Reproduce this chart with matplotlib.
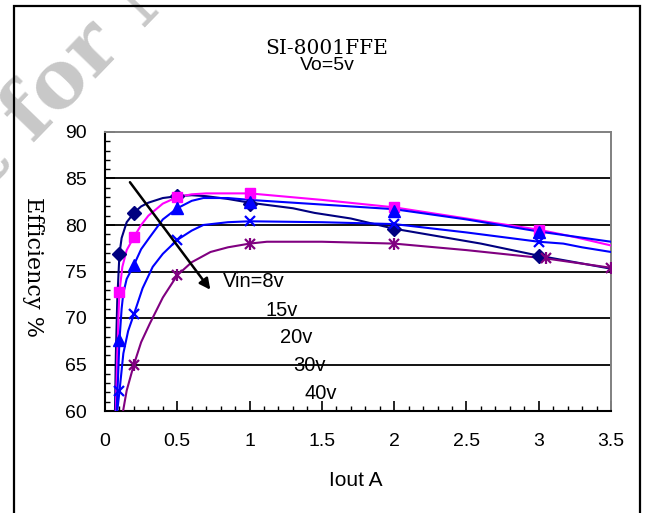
import matplotlib
matplotlib.use("Agg")
import matplotlib.pyplot as plt
from matplotlib.patches import Rectangle

# ---------------- data ----------------
title = "SI-8001FFE"
subtitle = "Vo=5v"
x_label = "Iout A"
y_label = "Efficiency %"
x_ticks = [0, 0.5, 1, 1.5, 2, 2.5, 3, 3.5]
x_tick_labels = ["0", "0.5", "1", "1.5", "2", "2.5", "3", "3.5"]
y_ticks = [60, 65, 70, 75, 80, 85, 90]
series_labels = ["Vin=8v", "15v", "20v", "30v", "40v"]

# Vin = 8 V (navy, diamonds)
v8_line_x = [0.069, 0.075, 0.085, 0.1, 0.115, 0.15, 0.2, 0.25, 0.3, 0.4, 0.5, 0.6, 0.7, 0.85, 1.0, 1.15, 1.3, 1.45, 1.7, 2.0, 2.3, 2.6, 3.0, 3.25, 3.5]
v8_line_y = [60.0, 66.0, 72.0, 76.9, 78.6, 80.3, 81.3, 82.0, 82.4, 82.9, 83.1, 83.2, 83.1, 82.8, 82.4, 82.1, 81.8, 81.3, 80.7, 79.6, 78.8, 78.0, 76.7, 76.0, 75.3]
v8_mark_x = [0.1, 0.2, 0.5, 1.0, 2.0, 3.0]
v8_mark_y = [76.9, 81.3, 83.1, 82.3, 79.6, 76.7]

# Vin = 15 V (magenta, squares)
v15_line_x = [0.075, 0.085, 0.095, 0.1, 0.12, 0.15, 0.2, 0.25, 0.3, 0.4, 0.5, 0.6, 0.7, 0.85, 1.0, 1.5, 2.0, 2.5, 2.7, 3.0, 3.25, 3.5]
v15_line_y = [60.0, 66.0, 71.0, 72.8, 75.5, 77.3, 78.7, 80.0, 81.0, 82.3, 83.0, 83.3, 83.4, 83.4, 83.4, 82.7, 81.9, 80.7, 80.2, 79.5, 78.7, 77.8]
v15_mark_x = [0.1, 0.2, 0.5, 1.0, 2.0, 3.0]
v15_mark_y = [72.8, 78.7, 83.0, 83.4, 81.9, 79.5]

# Vin = 20 V (blue, triangles)
v20_line_x = [0.08, 0.09, 0.1, 0.115, 0.127, 0.15, 0.2, 0.25, 0.31, 0.4, 0.5, 0.6, 0.68, 0.85, 1.0, 1.5, 2.0, 2.5, 3.0, 3.5]
v20_line_y = [60.0, 63.5, 67.6, 71.0, 72.7, 74.2, 75.7, 77.4, 78.7, 80.6, 81.8, 82.6, 82.9, 82.9, 82.7, 82.2, 81.7, 80.6, 79.3, 78.2]
v20_mark_x = [0.1, 0.2, 0.5, 1.0, 2.0, 3.0]
v20_mark_y = [67.6, 75.7, 81.8, 82.5, 81.5, 79.3]

# Vin = 30 V (blue, crosses)
v30_line_x = [0.085, 0.1, 0.127, 0.16, 0.2, 0.26, 0.33, 0.4, 0.5, 0.6, 0.68, 0.85, 1.0, 1.5, 2.0, 2.5, 3.0, 3.17, 3.3, 3.5]
v30_line_y = [60.0, 62.1, 66.2, 68.6, 70.4, 73.2, 75.5, 76.9, 78.4, 79.4, 80.0, 80.3, 80.4, 80.3, 80.1, 79.2, 78.2, 78.0, 77.6, 77.1]
v30_mark_x = [0.1, 0.2, 0.5, 1.0, 2.0, 3.0]
v30_mark_y = [62.1, 70.4, 78.4, 80.4, 80.1, 78.2]

# Vin = 40 V (purple, stars)
v40_line_x = [0.125, 0.15, 0.2, 0.25, 0.31, 0.4, 0.5, 0.6, 0.73, 0.85, 1.0, 1.12, 1.5, 2.0, 2.5, 3.05, 3.5]
v40_line_y = [60.0, 62.2, 65.0, 67.4, 69.4, 72.2, 74.6, 76.0, 77.1, 77.6, 78.0, 78.2, 78.2, 78.0, 77.3, 76.4, 75.4]
v40_mark_x = [0.2, 0.5, 1.0, 2.0, 3.05, 3.5]
v40_mark_y = [65.0, 74.6, 78.0, 78.0, 76.4, 75.4]

# ---------------- figure ----------------
fig = plt.figure(figsize=(6.5, 5.13), dpi=100)
fig.patch.set_facecolor("white")

# watermark (partly outside the picture, as in the reference)
fig.text(-0.155, 0.45, "Not for New Design", rotation=46, rotation_mode="anchor",
         ha="left", va="baseline", fontsize=58, family="DejaVu Serif",
         fontweight="bold", color="#c8c8c8", zorder=0)

# outer frame
fig.patches.append(Rectangle((14 / 650, -0.05), (640 - 14) / 650, 1 - 6 / 513 + 0.05,
                             transform=fig.transFigure, fill=False,
                             edgecolor="black", lw=1.6, zorder=1))

ax = fig.add_axes([105 / 650, 1 - 411 / 513, (611 - 105) / 650, (411 - 132) / 513])
ax.set_facecolor("none")
ax.set_xlim(0, 3.5)
ax.set_ylim(60, 90)

for g in y_ticks[1:-1]:
    ax.axhline(g, color="black", lw=1.3, zorder=1)

LW = 1.5
ax.plot(v8_line_x, v8_line_y, color="#000080", lw=LW, zorder=3)
ax.plot(v8_mark_x, v8_mark_y, ls="none", marker="D", ms=7, color="#000080", zorder=4)

ax.plot(v15_line_x, v15_line_y, color="#ff00ff", lw=LW, zorder=3)
ax.plot(v15_mark_x, v15_mark_y, ls="none", marker="s", ms=7.5, color="#ff00ff", zorder=4)

ax.plot(v20_line_x, v20_line_y, color="#0000ff", lw=LW, zorder=3)
ax.plot(v20_mark_x, v20_mark_y, ls="none", marker="^", ms=9, color="#0000ff", zorder=4)

ax.plot(v30_line_x, v30_line_y, color="#0000ff", lw=LW, zorder=3)
ax.plot(v30_mark_x, v30_mark_y, ls="none", marker="x", ms=7, mew=1.6, color="#0000ff", zorder=4)

ax.plot(v40_line_x, v40_line_y, color="#800080", lw=LW, zorder=3)
ax.plot(v40_mark_x, v40_mark_y, ls="none", marker="x", ms=7, mew=1.6, color="#800080", zorder=4)
ax.plot(v40_mark_x, v40_mark_y, ls="none", marker="|", ms=8.5, mew=1.6, color="#800080", zorder=4)

# arrow and series labels
ax.annotate("", xy=(0.74, 72.8), xytext=(0.161, 84.84),
            arrowprops=dict(arrowstyle="-|>", color="black", lw=1.8, mutation_scale=16),
            zorder=5)
label_pos = [(0.816, 73.9), (1.107, 70.86), (1.21, 67.85), (1.30, 64.84), (1.383, 61.83)]
for lab, (lx, ly) in zip(series_labels, label_pos):
    ax.text(lx, ly, lab, ha="left", va="center", fontsize=14.5,
            family="Liberation Sans", color="black", zorder=6)

# axes styling
ax.set_xticks(x_ticks)
ax.set_xticklabels(x_tick_labels)
ax.set_yticks(y_ticks)
ax.set_xticks([i / 10 for i in range(36)], minor=True)
ax.set_yticks(list(range(60, 91)), minor=True)
ax.tick_params(which="both", direction="in", top=False, right=False, color="black")
ax.tick_params(which="major", length=7, width=1.2)
ax.tick_params(which="minor", length=3.5, width=1.0)
ax.tick_params(axis="x", which="major", pad=16, labelsize=14)
ax.tick_params(axis="y", which="major", pad=13, labelsize=14)
for lbl in ax.get_xticklabels() + ax.get_yticklabels():
    lbl.set_family("Liberation Sans")

for s in ["left", "bottom"]:
    ax.spines[s].set_color("black")
    ax.spines[s].set_linewidth(1.5)
for s in ["top", "right"]:
    ax.spines[s].set_color("#808080")
    ax.spines[s].set_linewidth(1.4)

# titles and axis labels
fig.text(327 / 650, 1 - 48 / 513, title, ha="center", va="center",
         fontsize=14.5, family="DejaVu Serif")
fig.text(327 / 650, 1 - 65 / 513, subtitle, ha="center", va="center",
         fontsize=14, family="Liberation Sans")
fig.text(356 / 650, 1 - 480 / 513, x_label, ha="center", va="center",
         fontsize=15, family="Liberation Sans")
fig.text(33 / 650, 1 - 267 / 513, y_label, ha="center", va="center", rotation=270,
         fontsize=16, family="DejaVu Serif")

fig.savefig("out.png", dpi=100)
